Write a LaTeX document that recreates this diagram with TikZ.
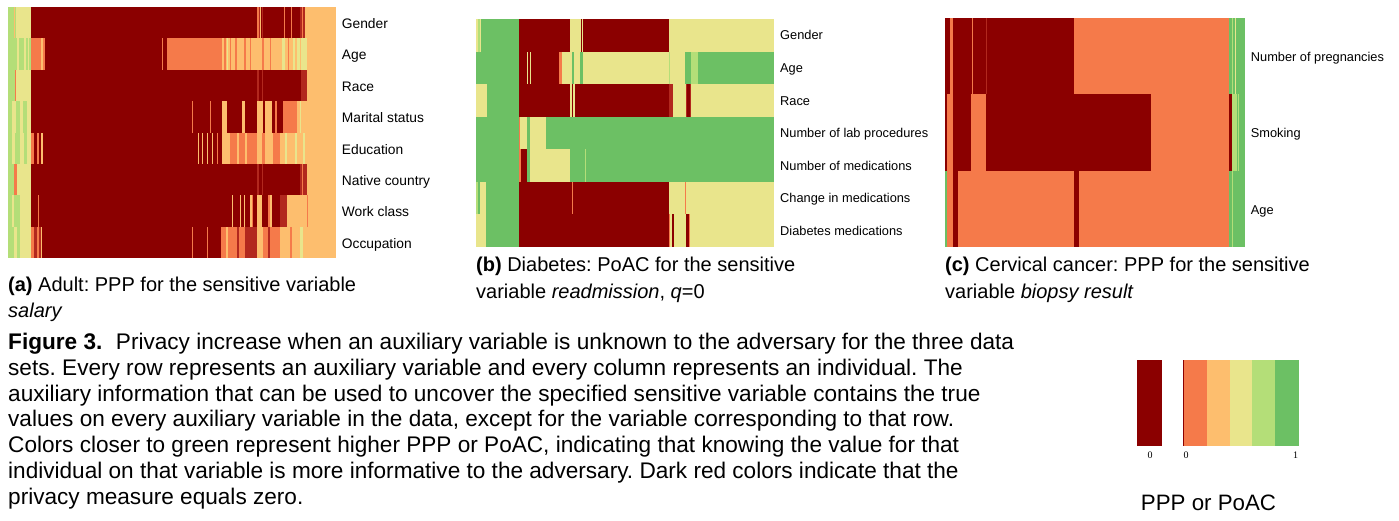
\documentclass[tikz,border=0pt]{standalone}
\usepackage{fontspec}
\setmainfont{Liberation Sans}
\newfontfamily\numfont{Liberation Serif}
\frenchspacing
\definecolor{DR}{RGB}{139,0,0}
\definecolor{MR}{RGB}{178,40,30}
\definecolor{OR}{RGB}{245,122,74}
\definecolor{LO}{RGB}{253,190,110}
\definecolor{YE}{RGB}{233,229,140}
\definecolor{LG}{RGB}{180,222,120}
\definecolor{GR}{RGB}{108,192,100}
% one heatmap row: top, bottom, list of x1/x2/colour bands
\newcommand\hrow[3]{\foreach \xa/\xb/\cc in {#3}{\fill[\cc] (\xa,#1) rectangle (\xb,#2);}}
\tikzset{
  lblA/.style={anchor=base west,inner sep=0pt,font=\fontsize{13.8}{16}\selectfont},
  lblB/.style={anchor=base west,inner sep=0pt,font=\fontsize{12.8}{15}\selectfont},
  sub/.style={anchor=base west,inner sep=0pt,font=\fontsize{20}{24}\selectfont},
  capline/.style={anchor=base west,inner sep=0pt,font=\fontsize{22.6}{26}\selectfont},
  tick/.style={anchor=base,inner sep=0pt,font=\numfont\fontsize{10}{11}\selectfont},
}
\begin{document}
\begin{tikzpicture}[x=1pt,y=-1pt]
\useasboundingbox (0,0) rectangle (1399,521);
\fill[white] (0,0) rectangle (1399,521);

% ---------- (a) Adult ----------
\fill[LO] (8,7) rectangle (336,258);
\hrow{7}{38.5}{8/31/LG, 16/31/YE, 13.5/15/LO, 31/305/DR, 257/258.5/OR, 258.5/260/MR, 260/261/LO, 262/263/MR, 284/285/OR, 291/292/OR, 300/302/MR, 302/303/OR, 303/305/MR}
\hrow{38.5}{70}{8/31/LG, 17/19/YE, 24/26/YE, 28/29/YE, 31/45/OR, 41/42.5/LO, 45/167/DR, 162/163/OR, 167/222/OR, 222/307/LO, 224/226/OR, 227/228/YE, 230/231/OR, 235/237/OR, 244/246/OR, 250/251/OR, 262/264/OR, 270/271/OR, 282/285/YE, 288/289/OR, 293/295/YE, 297/307/YE, 300/301/LO}
\hrow{70}{101.5}{8/16/LG, 14.5/15.5/OR, 16/31/YE, 31/307/DR, 257/259/MR, 262/263/MR, 301/307/MR}
\hrow{101.5}{133}{8/31/LG, 12/16/YE, 20/23/YE, 27/31/YE, 31/222/DR, 191.5/192.5/OR, 209.5/210.5/OR, 222/227/LO, 227/242/DR, 242/245/LO, 245/257/DR, 257/263/LO, 263/265/DR, 265/272/LO, 272/275/DR, 275/277/OR, 277/283/DR, 283/297/OR, 297/305/LO, 300/301/YE}
\hrow{133}{164.5}{8/31/LG, 12/15/YE, 20/24/YE, 27/31/YE, 31/34/OR, 34/36.5/DR, 36.5/39/OR, 39/41/DR, 41/43/LO, 43/222/DR, 197.5/198.5/LO, 201.5/202.5/LO, 206.5/207.5/LO, 211.5/212.5/LO, 216.5/217.5/OR, 222/230/LO, 230/257/OR, 237/239/LO, 245/247/LO, 257/307/LO, 262/265/OR, 273/280/OR, 285/287/YE, 295/297/YE, 303/305/YE}
\hrow{164.5}{195.5}{8/14/LG, 14/16.5/OR, 16.5/31/YE, 31/307/DR, 257/259/MR, 262/263/MR, 300/302/MR, 302/303/OR, 303/307/MR}
\hrow{195.5}{227}{8/31/LG, 12/14/YE, 20/31/YE, 31/257/DR, 37.5/38.5/OR, 231.5/232.5/LO, 239.5/240.5/LO, 243.5/244.5/LO, 250/252/LO, 252/253/OR, 257/262/LO, 262/268/DR, 268/270/OR, 270/272/LO, 272/280/DR, 280/287/MR, 287/307/LO, 307/308/OR}
\hrow{227}{258}{8/14/LG, 14/17/YE, 17/20/LG, 20/31/YE, 31/34/OR, 34/37/MR, 37/39/OR, 39/41/MR, 41/42/LO, 42/221/DR, 191.5/192.5/OR, 206.5/207.5/OR, 221/245/OR, 226/228/LO, 237/239/MR, 245/257/MR, 257/263/LO, 263/280/OR, 268/270/MR, 280/300/LO, 290/292/OR, 300/303/YE, 303/313/LO}

\node[lblA] (aGender) at (341.7,28.3) {Gender};
\node[lblA] (aAge) at (341.7,59.8) {Age};
\node[lblA] (aRace) at (341.7,91.3) {Race};
\node[lblA] (aMarital) at (341.7,122.8) {Marital status};
\node[lblA] (aEdu) at (341.7,154.3) {Education};
\node[lblA] (aNative) at (341.7,185.5) {Native country};
\node[lblA] (aWork) at (341.7,216.8) {Work class};
\node[lblA] (aOcc) at (341.7,248.0) {Occupation};

% ---------- (b) Diabetes ----------
\hrow{19}{51.6}{476/774/YE, 478/480/LG, 481/519/GR, 519/570/DR, 580.7/582.3/DR, 583.3/669/DR}
\hrow{51.6}{84.1}{476/519/GR, 519/559/DR, 527.3/528.3/YE, 530.3/531.3/YE, 559/561.5/OR, 561.5/572/YE, 572/574/GR, 574/580/YE, 580/583/GR, 583/685/YE, 669/670/LG, 685/691/GR, 691/698/LG, 698/774/GR}
\hrow{84.1}{116.7}{476/487/YE, 487/519/GR, 519/670/DR, 570/571.5/YE, 573/574.5/YE, 668.7/672.7/MR, 672.7/686/YE, 686/690.5/MR, 687/689.5/DR, 690.5/774/YE}
\hrow{116.7}{149.3}{476/519/GR, 519/527/YE, 519/520/OR, 527/530/GR, 530/546/YE, 546/774/GR}
\hrow{149.3}{181.9}{476/519/GR, 519/521/OR, 521/527/DR, 527/530/GR, 530/570/YE, 570/774/GR, 585/586/LG}
\hrow{181.9}{214.4}{476/478/LG, 478/480/GR, 480/486/YE, 486/519/GR, 519/669/DR, 572/573/OR, 669/774/YE, 684.5/685.5/OR}
\hrow{214.4}{247}{476/486/YE, 486/519/GR, 519/669/DR, 669/670/OR, 670/672/YE, 672/674/DR, 674/686/YE, 686/688.5/DR, 688.5/689.5/OR, 689.5/774/YE}

\node[lblB] (bGender) at (780,40.0) {Gender};
\node[lblB] (bAge) at (780,72.6) {Age};
\node[lblB] (bRace) at (780,105.2) {Race};
\node[lblB] (bLab) at (780,137.8) {Number of lab procedures};
\node[lblB] (bMed) at (780,170.4) {Number of medications};
\node[lblB] (bChange) at (780,203.0) {Change in medications};
\node[lblB] (bDiab) at (780,235.5) {Diabetes medications};

% ---------- (c) Cervical cancer ----------
\hrow{18}{94.3}{945/1229.3/OR, 945/950/DR, 952.7/971.7/DR, 973.3/1074.3/DR, 985.5/986.5/MR, 1229.3/1245/GR, 1232/1233/LG, 1235/1235.7/YE}
\hrow{94.3}{170.7}{945/1229.3/OR, 945/946.5/DR, 952.7/971/DR, 986/1151.3/DR, 1229.3/1232/DR, 1232/1236.5/LG, 1236.5/1245/GR, 1238/1238.7/LG}
\hrow{170.7}{247}{945/1229.3/OR, 945/947/GR, 952.7/958.3/DR, 1074.3/1079.3/DR, 1229.3/1245/GR, 1232/1233/LG}

\node[lblB] (cPreg) at (1250.7,61.7) {Number of pregnancies};
\node[lblB] (cSmoke) at (1250.7,137.9) {Smoking};
\node[lblB] (cAge) at (1250.7,214.3) {Age};

% ---------- sub-captions ----------
\node[sub] (subA1) at (8,291.5) {\textbf{(a)} Adult: PPP for the sensitive variable};
\node[sub] (subA2) at (8,317.5) {\textit{salary}};
\node[sub] (subB1) at (476,271.7) {\textbf{(b)} Diabetes: PoAC for the sensitive};
\node[sub] (subB2) at (476,298.0) {variable \textit{readmission}, \textit{q}=0};
\node[sub] (subC1) at (945,271.7) {\textbf{(c)} Cervical cancer: PPP for the sensitive};
\node[sub] (subC2) at (945,298.0) {variable \textit{biopsy result}};

% ---------- figure caption ----------
\node[capline] (cap1) at (8,349.3) {\textbf{Figure 3.}\hspace{0.6em}Privacy increase when an auxiliary variable is unknown to the adversary for the three data};
\node[capline] (cap2) at (8,375.2) {sets. Every row represents an auxiliary variable and every column represents an individual. The};
\node[capline] (cap3) at (8,401.0) {auxiliary information that can be used to uncover the specified sensitive variable contains the true};
\node[capline] (cap4) at (8,426.8) {values on every auxiliary variable in the data, except for the variable corresponding to that row.};
\node[capline] (cap5) at (8,452.6) {Colors closer to green represent higher PPP or PoAC, indicating that knowing the value for that};
\node[capline] (cap6) at (8,478.4) {individual on that variable is more informative to the adversary. Dark red colors indicate that the};
\node[capline] (cap7) at (8,504.3) {privacy measure equals zero.};

% ---------- colour legend ----------
\fill[DR] (1136.7,360) rectangle (1162.3,446);
\hrow{360}{446}{1182.7/1206.7/OR, 1206.7/1230/LO, 1230/1252.3/YE, 1252.3/1275/LG, 1275/1299/GR}
\fill[DR] (1182.7,360) rectangle (1183.4,446);
\node[tick] (t0a) at (1150,458.3) {0};
\node[tick] (t0b) at (1186,458.3) {0};
\node[tick] (t1) at (1295.5,458.3) {1};
\node[anchor=base,inner sep=0pt,font=\fontsize{22.3}{26}\selectfont] (legtitle) at (1208.5,510.5) {PPP or PoAC};
\end{tikzpicture}
\end{document}
